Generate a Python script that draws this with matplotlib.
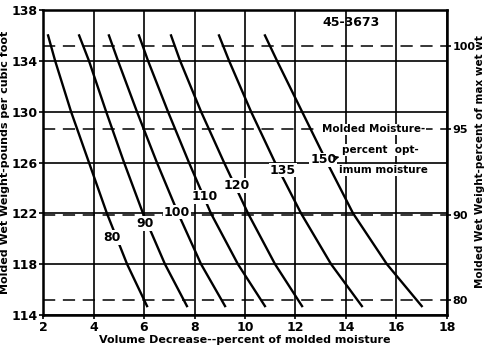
import matplotlib
matplotlib.use("Agg")
import matplotlib.pyplot as plt
import numpy as np

# wet weight levels (lb/ft3) at which the curves were read
weights = [136.0, 134.0, 130.0, 126.0, 122.0, 118.0, 114.7]

# volume decrease (% of molded moisture) for each molded-moisture curve
moisture_levels = [80, 90, 100, 110, 120, 135, 150]
vol_80 = [2.20, 2.48, 3.11, 3.82, 4.53, 5.33, 6.12]
vol_90 = [3.43, 3.82, 4.50, 5.21, 5.96, 6.83, 7.70]
vol_100 = [4.61, 4.97, 5.72, 6.51, 7.35, 8.26, 9.21]
vol_110 = [5.80, 6.16, 6.95, 7.78, 8.65, 9.72, 10.79]
vol_120 = [7.07, 7.43, 8.26, 9.17, 10.12, 11.19, 12.26]
vol_135 = [8.97, 9.37, 10.24, 11.19, 12.22, 13.41, 14.63]
vol_150 = [10.79, 11.27, 12.26, 13.25, 14.28, 15.62, 17.00]
curves = [vol_80, vol_90, vol_100, vol_110, vol_120, vol_135, vol_150]

# curve label positions (x, y)
label_pos = [(4.73, 120.1), (6.04, 121.2), (7.31, 122.1), (8.42, 123.3),
             (9.68, 124.2), (11.5, 125.4), (13.1, 126.2)]

# right axis: percent of max wet weight
pct_ticks = [135.2, 128.6, 121.9, 115.2]
pct_labels = ["100", "95", "90", "80"]

x_ticks = np.arange(2, 19, 2)
y_ticks = np.arange(114, 139, 4)

plt.rcParams['font.family'] = ['DejaVu Sans']
plt.rcParams['font.weight'] = 'bold'

fig = plt.figure(figsize=(4.85, 3.55), dpi=100)
ax = fig.add_axes([0.0887, 0.1127, 0.8329, 0.8591])

ax.set_xlim(2, 18)
ax.set_ylim(114, 138)
ax.set_xticks(x_ticks)
ax.set_yticks(y_ticks)
ax.set_xticklabels([str(v) for v in x_ticks], fontsize=9, fontweight='bold')
ax.set_yticklabels([str(v) for v in y_ticks], fontsize=9, fontweight='bold')
ax.tick_params(axis='both', length=3, width=1.2, pad=1)

ax.grid(True, color='black', linewidth=1.2, zorder=1)
ax.set_axisbelow(True)
for s in ax.spines.values():
    s.set_linewidth(1.8)

# dashed reference lines
for yv in pct_ticks:
    ax.axhline(yv, color='black', linewidth=1.1, dashes=(8, 5), zorder=1)

for vols in curves:
    ax.plot(vols, weights, color='black', linewidth=1.7, zorder=3)

for lvl, (lx, ly) in zip(moisture_levels, label_pos):
    ax.text(lx, ly, str(lvl), fontsize=9, fontweight='bold', ha='center',
            va='center', zorder=4,
            bbox=dict(facecolor='white', edgecolor='none', pad=0.5))

ax.annotate("", xy=(13.85, 126.5), xytext=(13.45, 126.3),
            arrowprops=dict(arrowstyle='->', color='black', lw=0.9), zorder=4)

ax.text(15.1, 128.6, "Molded Moisture-", fontsize=7.5, fontweight='bold',
        ha='center', va='center', zorder=4,
        bbox=dict(facecolor='white', edgecolor='none', pad=0.5))
ax.text(15.35, 127.0, "percent  opt-", fontsize=7.5, fontweight='bold',
        ha='center', va='center', zorder=4,
        bbox=dict(facecolor='white', edgecolor='none', pad=0.5))
ax.text(15.5, 125.4, "imum moisture", fontsize=7.5, fontweight='bold',
        ha='center', va='center', zorder=4,
        bbox=dict(facecolor='white', edgecolor='none', pad=0.5))

ax.text(14.2, 137.0, "45-3673", fontsize=9, fontweight='bold',
        ha='center', va='center', zorder=4)

ax.set_xlabel("Volume Decrease--percent of molded moisture", fontsize=8,
              fontweight='bold', labelpad=1)
ax.set_ylabel("Molded Wet Weight-pounds per cubic foot", fontsize=8,
              fontweight='bold', labelpad=1)

ax2 = ax.twinx()
ax2.set_ylim(114, 138)
ax2.set_yticks(pct_ticks)
ax2.set_yticklabels(pct_labels, fontsize=8, fontweight='bold')
ax2.tick_params(axis='y', length=3, width=1.2, pad=1)

fig.text(0.989, 0.546, "Molded Wet Weight-percent of max wet wt", fontsize=7.5,
         fontweight='bold', rotation=90, ha='center', va='center')

fig.savefig("out.png", dpi=100)
